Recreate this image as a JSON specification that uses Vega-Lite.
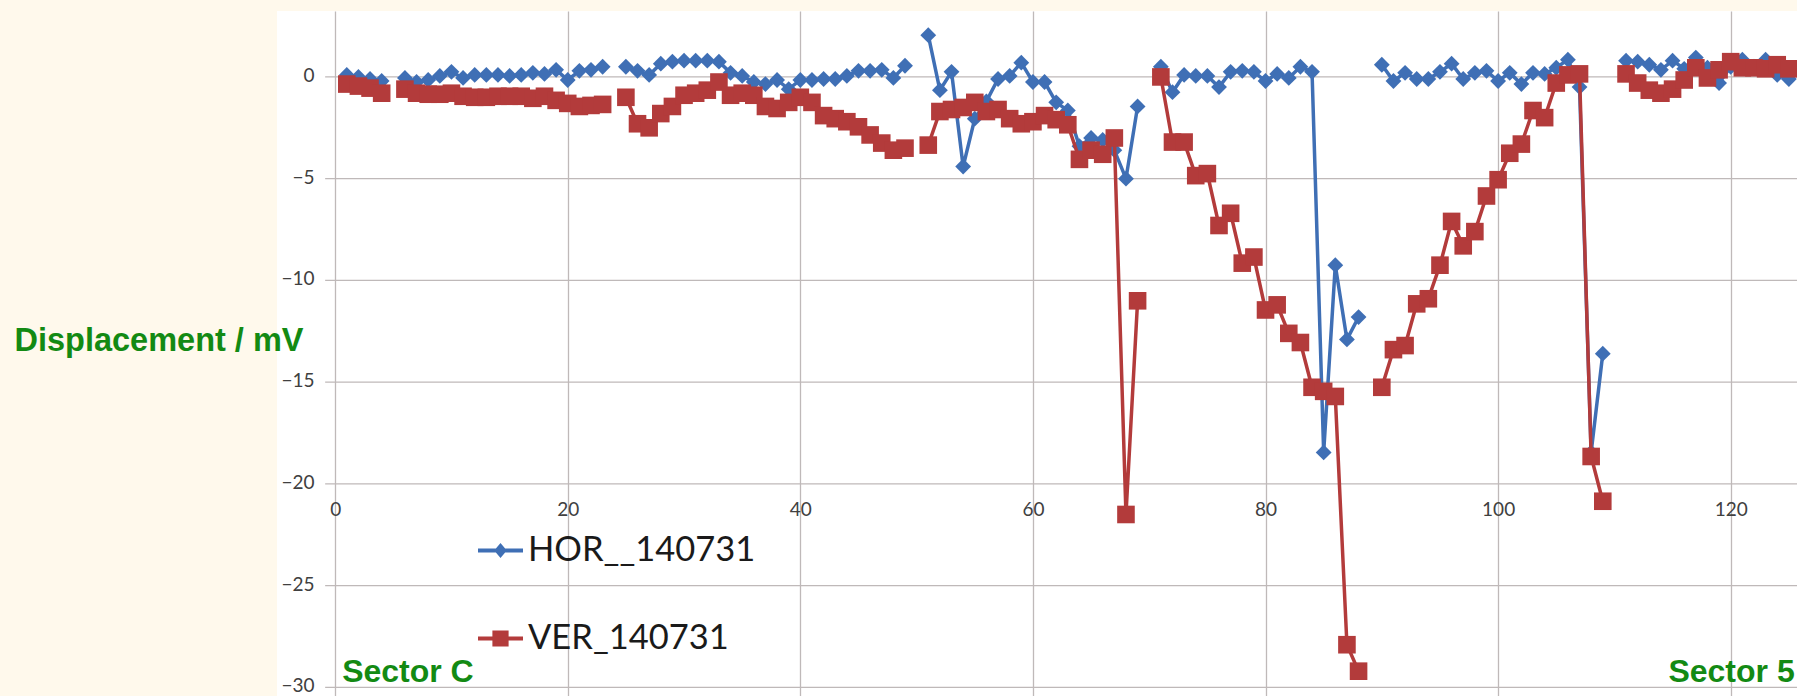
{
  "$schema": "https://vega.github.io/schema/vega-lite/v6.json",
  "width": 1520,
  "height": 685,
  "autosize": {"type": "none"},
  "padding": {"left": 277, "top": 11, "right": 0, "bottom": 0},
  "background": "#FFF9EC",
  "config": {"view": {"fill": "white", "stroke": null}, "font": "Lato"},
  "datasets": {
    "grid": [{"v": -30}, {"v": -25}, {"v": -20}, {"v": -15}, {"v": -10}, {"v": -5}, {"v": 0}],
    "hor": [
      {"x":1,"v":0.1,"s":"HOR__140731"},{"x":2,"v":0.0,"s":"HOR__140731"},{"x":3,"v":-0.1,"s":"HOR__140731"},{"x":4,"v":-0.2,"s":"HOR__140731"},{"x":5,"v":null,"s":"HOR__140731"},
      {"x":6,"v":-0.05,"s":"HOR__140731"},{"x":7,"v":-0.25,"s":"HOR__140731"},{"x":8,"v":-0.15,"s":"HOR__140731"},{"x":9,"v":0.05,"s":"HOR__140731"},{"x":10,"v":0.25,"s":"HOR__140731"},
      {"x":11,"v":-0.05,"s":"HOR__140731"},{"x":12,"v":0.1,"s":"HOR__140731"},{"x":13,"v":0.1,"s":"HOR__140731"},{"x":14,"v":0.1,"s":"HOR__140731"},{"x":15,"v":0.05,"s":"HOR__140731"},
      {"x":16,"v":0.1,"s":"HOR__140731"},{"x":17,"v":0.2,"s":"HOR__140731"},{"x":18,"v":0.15,"s":"HOR__140731"},{"x":19,"v":0.35,"s":"HOR__140731"},{"x":20,"v":-0.15,"s":"HOR__140731"},
      {"x":21,"v":0.3,"s":"HOR__140731"},{"x":22,"v":0.35,"s":"HOR__140731"},{"x":23,"v":0.5,"s":"HOR__140731"},{"x":24,"v":null,"s":"HOR__140731"},{"x":25,"v":0.5,"s":"HOR__140731"},
      {"x":26,"v":0.3,"s":"HOR__140731"},{"x":27,"v":0.1,"s":"HOR__140731"},{"x":28,"v":0.65,"s":"HOR__140731"},{"x":29,"v":0.75,"s":"HOR__140731"},{"x":30,"v":0.8,"s":"HOR__140731"},
      {"x":31,"v":0.8,"s":"HOR__140731"},{"x":32,"v":0.8,"s":"HOR__140731"},{"x":33,"v":0.75,"s":"HOR__140731"},{"x":34,"v":0.2,"s":"HOR__140731"},{"x":35,"v":0.05,"s":"HOR__140731"},
      {"x":36,"v":-0.25,"s":"HOR__140731"},{"x":37,"v":-0.35,"s":"HOR__140731"},{"x":38,"v":-0.15,"s":"HOR__140731"},{"x":39,"v":-0.6,"s":"HOR__140731"},{"x":40,"v":-0.15,"s":"HOR__140731"},
      {"x":41,"v":-0.15,"s":"HOR__140731"},{"x":42,"v":-0.1,"s":"HOR__140731"},{"x":43,"v":-0.1,"s":"HOR__140731"},{"x":44,"v":0.05,"s":"HOR__140731"},{"x":45,"v":0.3,"s":"HOR__140731"},
      {"x":46,"v":0.3,"s":"HOR__140731"},{"x":47,"v":0.35,"s":"HOR__140731"},{"x":48,"v":-0.05,"s":"HOR__140731"},{"x":49,"v":0.55,"s":"HOR__140731"},{"x":50,"v":null,"s":"HOR__140731"},
      {"x":51,"v":2.05,"s":"HOR__140731"},{"x":52,"v":-0.65,"s":"HOR__140731"},{"x":53,"v":0.25,"s":"HOR__140731"},{"x":54,"v":-4.4,"s":"HOR__140731"},{"x":55,"v":-2.05,"s":"HOR__140731"},
      {"x":56,"v":-1.2,"s":"HOR__140731"},{"x":57,"v":-0.1,"s":"HOR__140731"},{"x":58,"v":0.05,"s":"HOR__140731"},{"x":59,"v":0.7,"s":"HOR__140731"},{"x":60,"v":-0.25,"s":"HOR__140731"},
      {"x":61,"v":-0.25,"s":"HOR__140731"},{"x":62,"v":-1.25,"s":"HOR__140731"},{"x":63,"v":-1.65,"s":"HOR__140731"},{"x":64,"v":-3.4,"s":"HOR__140731"},{"x":65,"v":-3.0,"s":"HOR__140731"},
      {"x":66,"v":-3.1,"s":"HOR__140731"},{"x":67,"v":-3.6,"s":"HOR__140731"},{"x":68,"v":-5.0,"s":"HOR__140731"},{"x":69,"v":-1.45,"s":"HOR__140731"},{"x":70,"v":null,"s":"HOR__140731"},
      {"x":71,"v":0.5,"s":"HOR__140731"},{"x":72,"v":-0.75,"s":"HOR__140731"},{"x":73,"v":0.1,"s":"HOR__140731"},{"x":74,"v":0.05,"s":"HOR__140731"},{"x":75,"v":0.05,"s":"HOR__140731"},
      {"x":76,"v":-0.5,"s":"HOR__140731"},{"x":77,"v":0.25,"s":"HOR__140731"},{"x":78,"v":0.3,"s":"HOR__140731"},{"x":79,"v":0.25,"s":"HOR__140731"},{"x":80,"v":-0.2,"s":"HOR__140731"},
      {"x":81,"v":0.15,"s":"HOR__140731"},{"x":82,"v":-0.05,"s":"HOR__140731"},{"x":83,"v":0.5,"s":"HOR__140731"},{"x":84,"v":0.25,"s":"HOR__140731"},{"x":85,"v":-18.45,"s":"HOR__140731"},
      {"x":86,"v":-9.25,"s":"HOR__140731"},{"x":87,"v":-12.9,"s":"HOR__140731"},{"x":88,"v":-11.8,"s":"HOR__140731"},{"x":89,"v":null,"s":"HOR__140731"},{"x":90,"v":0.6,"s":"HOR__140731"},
      {"x":91,"v":-0.2,"s":"HOR__140731"},{"x":92,"v":0.2,"s":"HOR__140731"},{"x":93,"v":-0.1,"s":"HOR__140731"},{"x":94,"v":-0.1,"s":"HOR__140731"},{"x":95,"v":0.25,"s":"HOR__140731"},
      {"x":96,"v":0.65,"s":"HOR__140731"},{"x":97,"v":-0.1,"s":"HOR__140731"},{"x":98,"v":0.2,"s":"HOR__140731"},{"x":99,"v":0.3,"s":"HOR__140731"},{"x":100,"v":-0.2,"s":"HOR__140731"},
      {"x":101,"v":0.2,"s":"HOR__140731"},{"x":102,"v":-0.35,"s":"HOR__140731"},{"x":103,"v":0.2,"s":"HOR__140731"},{"x":104,"v":0.15,"s":"HOR__140731"},{"x":105,"v":0.45,"s":"HOR__140731"},
      {"x":106,"v":0.85,"s":"HOR__140731"},{"x":107,"v":-0.5,"s":"HOR__140731"},{"x":108,"v":-18.45,"s":"HOR__140731"},{"x":109,"v":-13.6,"s":"HOR__140731"},{"x":110,"v":null,"s":"HOR__140731"},
      {"x":111,"v":0.8,"s":"HOR__140731"},{"x":112,"v":0.75,"s":"HOR__140731"},{"x":113,"v":0.6,"s":"HOR__140731"},{"x":114,"v":0.35,"s":"HOR__140731"},{"x":115,"v":0.8,"s":"HOR__140731"},
      {"x":116,"v":0.4,"s":"HOR__140731"},{"x":117,"v":0.95,"s":"HOR__140731"},{"x":118,"v":0.45,"s":"HOR__140731"},{"x":119,"v":-0.3,"s":"HOR__140731"},{"x":120,"v":0.5,"s":"HOR__140731"},
      {"x":121,"v":0.85,"s":"HOR__140731"},{"x":122,"v":0.5,"s":"HOR__140731"},{"x":123,"v":0.85,"s":"HOR__140731"},{"x":124,"v":0.1,"s":"HOR__140731"},{"x":125,"v":-0.1,"s":"HOR__140731"}
    ],
    "ver": [
      {"x":1,"v":-0.35,"s":"VER_140731"},{"x":2,"v":-0.45,"s":"VER_140731"},{"x":3,"v":-0.55,"s":"VER_140731"},{"x":4,"v":-0.8,"s":"VER_140731"},{"x":5,"v":null,"s":"VER_140731"},
      {"x":6,"v":-0.6,"s":"VER_140731"},{"x":7,"v":-0.8,"s":"VER_140731"},{"x":8,"v":-0.85,"s":"VER_140731"},{"x":9,"v":-0.85,"s":"VER_140731"},{"x":10,"v":-0.8,"s":"VER_140731"},
      {"x":11,"v":-0.95,"s":"VER_140731"},{"x":12,"v":-1.0,"s":"VER_140731"},{"x":13,"v":-1.0,"s":"VER_140731"},{"x":14,"v":-0.95,"s":"VER_140731"},{"x":15,"v":-0.95,"s":"VER_140731"},
      {"x":16,"v":-0.95,"s":"VER_140731"},{"x":17,"v":-1.05,"s":"VER_140731"},{"x":18,"v":-0.95,"s":"VER_140731"},{"x":19,"v":-1.15,"s":"VER_140731"},{"x":20,"v":-1.3,"s":"VER_140731"},
      {"x":21,"v":-1.45,"s":"VER_140731"},{"x":22,"v":-1.4,"s":"VER_140731"},{"x":23,"v":-1.35,"s":"VER_140731"},{"x":24,"v":null,"s":"VER_140731"},{"x":25,"v":-1.0,"s":"VER_140731"},
      {"x":26,"v":-2.3,"s":"VER_140731"},{"x":27,"v":-2.5,"s":"VER_140731"},{"x":28,"v":-1.8,"s":"VER_140731"},{"x":29,"v":-1.45,"s":"VER_140731"},{"x":30,"v":-0.9,"s":"VER_140731"},
      {"x":31,"v":-0.8,"s":"VER_140731"},{"x":32,"v":-0.65,"s":"VER_140731"},{"x":33,"v":-0.25,"s":"VER_140731"},{"x":34,"v":-0.9,"s":"VER_140731"},{"x":35,"v":-0.8,"s":"VER_140731"},
      {"x":36,"v":-0.9,"s":"VER_140731"},{"x":37,"v":-1.45,"s":"VER_140731"},{"x":38,"v":-1.55,"s":"VER_140731"},{"x":39,"v":-1.25,"s":"VER_140731"},{"x":40,"v":-1.0,"s":"VER_140731"},
      {"x":41,"v":-1.25,"s":"VER_140731"},{"x":42,"v":-1.9,"s":"VER_140731"},{"x":43,"v":-2.05,"s":"VER_140731"},{"x":44,"v":-2.2,"s":"VER_140731"},{"x":45,"v":-2.45,"s":"VER_140731"},
      {"x":46,"v":-2.85,"s":"VER_140731"},{"x":47,"v":-3.25,"s":"VER_140731"},{"x":48,"v":-3.6,"s":"VER_140731"},{"x":49,"v":-3.5,"s":"VER_140731"},{"x":50,"v":null,"s":"VER_140731"},
      {"x":51,"v":-3.35,"s":"VER_140731"},{"x":52,"v":-1.7,"s":"VER_140731"},{"x":53,"v":-1.6,"s":"VER_140731"},{"x":54,"v":-1.5,"s":"VER_140731"},{"x":55,"v":-1.25,"s":"VER_140731"},
      {"x":56,"v":-1.7,"s":"VER_140731"},{"x":57,"v":-1.6,"s":"VER_140731"},{"x":58,"v":-2.05,"s":"VER_140731"},{"x":59,"v":-2.3,"s":"VER_140731"},{"x":60,"v":-2.2,"s":"VER_140731"},
      {"x":61,"v":-1.9,"s":"VER_140731"},{"x":62,"v":-2.1,"s":"VER_140731"},{"x":63,"v":-2.35,"s":"VER_140731"},{"x":64,"v":-4.05,"s":"VER_140731"},{"x":65,"v":-3.6,"s":"VER_140731"},
      {"x":66,"v":-3.8,"s":"VER_140731"},{"x":67,"v":-3.0,"s":"VER_140731"},{"x":68,"v":-21.5,"s":"VER_140731"},{"x":69,"v":-11.0,"s":"VER_140731"},{"x":70,"v":null,"s":"VER_140731"},
      {"x":71,"v":0.0,"s":"VER_140731"},{"x":72,"v":-3.2,"s":"VER_140731"},{"x":73,"v":-3.2,"s":"VER_140731"},{"x":74,"v":-4.85,"s":"VER_140731"},{"x":75,"v":-4.75,"s":"VER_140731"},
      {"x":76,"v":-7.3,"s":"VER_140731"},{"x":77,"v":-6.7,"s":"VER_140731"},{"x":78,"v":-9.15,"s":"VER_140731"},{"x":79,"v":-8.85,"s":"VER_140731"},{"x":80,"v":-11.45,"s":"VER_140731"},
      {"x":81,"v":-11.2,"s":"VER_140731"},{"x":82,"v":-12.6,"s":"VER_140731"},{"x":83,"v":-13.05,"s":"VER_140731"},{"x":84,"v":-15.25,"s":"VER_140731"},{"x":85,"v":-15.45,"s":"VER_140731"},
      {"x":86,"v":-15.7,"s":"VER_140731"},{"x":87,"v":-27.9,"s":"VER_140731"},{"x":88,"v":-29.2,"s":"VER_140731"},{"x":89,"v":null,"s":"VER_140731"},{"x":90,"v":-15.25,"s":"VER_140731"},
      {"x":91,"v":-13.4,"s":"VER_140731"},{"x":92,"v":-13.2,"s":"VER_140731"},{"x":93,"v":-11.15,"s":"VER_140731"},{"x":94,"v":-10.9,"s":"VER_140731"},{"x":95,"v":-9.25,"s":"VER_140731"},
      {"x":96,"v":-7.1,"s":"VER_140731"},{"x":97,"v":-8.3,"s":"VER_140731"},{"x":98,"v":-7.6,"s":"VER_140731"},{"x":99,"v":-5.85,"s":"VER_140731"},{"x":100,"v":-5.05,"s":"VER_140731"},
      {"x":101,"v":-3.75,"s":"VER_140731"},{"x":102,"v":-3.3,"s":"VER_140731"},{"x":103,"v":-1.65,"s":"VER_140731"},{"x":104,"v":-2.0,"s":"VER_140731"},{"x":105,"v":-0.3,"s":"VER_140731"},
      {"x":106,"v":0.1,"s":"VER_140731"},{"x":107,"v":0.15,"s":"VER_140731"},{"x":108,"v":-18.65,"s":"VER_140731"},{"x":109,"v":-20.85,"s":"VER_140731"},{"x":110,"v":null,"s":"VER_140731"},
      {"x":111,"v":0.15,"s":"VER_140731"},{"x":112,"v":-0.3,"s":"VER_140731"},{"x":113,"v":-0.65,"s":"VER_140731"},{"x":114,"v":-0.8,"s":"VER_140731"},{"x":115,"v":-0.6,"s":"VER_140731"},
      {"x":116,"v":-0.15,"s":"VER_140731"},{"x":117,"v":0.45,"s":"VER_140731"},{"x":118,"v":-0.05,"s":"VER_140731"},{"x":119,"v":0.35,"s":"VER_140731"},{"x":120,"v":0.75,"s":"VER_140731"},
      {"x":121,"v":0.45,"s":"VER_140731"},{"x":122,"v":0.45,"s":"VER_140731"},{"x":123,"v":0.4,"s":"VER_140731"},{"x":124,"v":0.6,"s":"VER_140731"},{"x":125,"v":0.4,"s":"VER_140731"}
    ],
    "notes": [{"label": "Sector C", "x": 0.6, "v": -29.75}],
    "notes2": [{"label": "Sector 5", "x": 125.5, "v": -29.75}]
  },
  "layer": [
    {
      "data": {"name": "grid"},
      "mark": {"type": "rule", "color": "#BFB9B9", "strokeWidth": 1.3},
      "encoding": {
        "y": {"field": "v", "type": "quantitative", "title": "Displacement / mV", "scale": {"domain": [-30.42, 3.24], "nice": false, "zero": false},
          "axis": {"orient": "left", "offset": -58, "values": [-30, -25, -20, -15, -10, -5, 0], "domain": false, "ticks": false, "tickSize": 0, "grid": false, "labelPadding": 21, "labelOffset": -1.5, "labelAlign": "right", "labelFont": "Lato", "labelFontSize": 19, "labelColor": "#404040", "labelFlush": false, "labelOverlap": false,
            "titleAngle": 0, "titleX": -321, "titleY": 339, "titleAlign": "left", "titleBaseline": "alphabetic", "titleFont": "Liberation Sans", "titleFontSize": 32.5, "titleFontWeight": "bold", "titleColor": "#138A13"}},
        "x": {"datum": -0.86, "type": "quantitative", "title": null, "scale": {"domain": [-5, 125.7], "nice": false, "zero": false},
          "axis": {"orient": "bottom", "offset": -206, "values": [0, 20, 40, 60, 80, 100, 120], "domain": false, "ticks": false, "tickSize": 0, "grid": true, "gridColor": "#BFB9B9", "gridWidth": 1.3, "labelPadding": 10, "labelFont": "Lato", "labelFontSize": 19, "labelColor": "#404040", "labelFlush": false, "labelOverlap": false}},
        "x2": {"datum": 125.7}
      }
    },
    {
      "data": {"name": "hor"},
      "mark": {"type": "line", "strokeWidth": 3.5, "clip": true, "invalid": "break-paths-filter-domains", "point": {"shape": "diamond", "size": 250, "filled": true, "opacity": 1}},
      "encoding": {
        "x": {"field": "x", "type": "quantitative", "title": null, "scale": {"domain": [-5, 125.7], "nice": false, "zero": false},
          "axis": {"orient": "bottom", "offset": -206, "values": [0, 20, 40, 60, 80, 100, 120], "domain": false, "ticks": false, "tickSize": 0, "grid": true, "gridColor": "#BFB9B9", "gridWidth": 1.3, "labelPadding": 10, "labelFont": "Lato", "labelFontSize": 19, "labelColor": "#404040", "labelFlush": false, "labelOverlap": false}},
        "y": {"field": "v", "type": "quantitative", "title": "Displacement / mV", "scale": {"domain": [-30.42, 3.24], "nice": false, "zero": false},
          "axis": {"orient": "left", "offset": -58, "values": [-30, -25, -20, -15, -10, -5, 0], "domain": false, "ticks": false, "tickSize": 0, "grid": false, "labelPadding": 21, "labelOffset": -1.5, "labelAlign": "right", "labelFont": "Lato", "labelFontSize": 19, "labelColor": "#404040", "labelFlush": false, "labelOverlap": false,
            "titleAngle": 0, "titleX": -321, "titleY": 339, "titleAlign": "left", "titleBaseline": "alphabetic", "titleFont": "Liberation Sans", "titleFontSize": 32.5, "titleFontWeight": "bold", "titleColor": "#138A13"}},
        "color": {"field": "s", "type": "nominal", "scale": {"domain": ["HOR__140731", "VER_140731"], "range": ["#3F6FB5", "#B33B3B"]},
          "legend": {"orient": "none", "legendX": 201, "legendY": 517, "title": null, "direction": "vertical", "padding": 0, "symbolSize": 2025, "symbolStrokeWidth": 0, "labelFont": "Lato", "labelFontSize": 34.5, "labelColor": "#1A1A1A", "labelOffset": 5, "labelLimit": 0, "rowPadding": 49,
            "encode": {"symbols": {"update": {
              "shape": {"signal": "datum.value === 'HOR__140731' ? 'M-1,-0.085H1V0.085H-1Z M0,-0.33L0.28,0L0,0.33L-0.28,0Z' : 'M-1,-0.085H1V0.085H-1Z M-0.36,-0.36H0.36V0.36H-0.36Z'"},
              "fill": {"signal": "datum.value === 'HOR__140731' ? '#3F6FB5' : '#B33B3B'"},
              "stroke": {"value": "transparent"},
              "strokeWidth": {"value": 0},
              "opacity": {"value": 1},
              "size": {"value": 2025}
            }}}}}
      }
    },
    {
      "data": {"name": "ver"},
      "mark": {"type": "line", "strokeWidth": 3.5, "clip": true, "invalid": "break-paths-filter-domains", "point": {"shape": "square", "size": 310, "filled": true, "opacity": 1}},
      "encoding": {
        "x": {"field": "x", "type": "quantitative", "title": null, "scale": {"domain": [-5, 125.7], "nice": false, "zero": false},
          "axis": {"orient": "bottom", "offset": -206, "values": [0, 20, 40, 60, 80, 100, 120], "domain": false, "ticks": false, "tickSize": 0, "grid": true, "gridColor": "#BFB9B9", "gridWidth": 1.3, "labelPadding": 10, "labelFont": "Lato", "labelFontSize": 19, "labelColor": "#404040", "labelFlush": false, "labelOverlap": false}},
        "y": {"field": "v", "type": "quantitative", "title": "Displacement / mV", "scale": {"domain": [-30.42, 3.24], "nice": false, "zero": false},
          "axis": {"orient": "left", "offset": -58, "values": [-30, -25, -20, -15, -10, -5, 0], "domain": false, "ticks": false, "tickSize": 0, "grid": false, "labelPadding": 21, "labelOffset": -1.5, "labelAlign": "right", "labelFont": "Lato", "labelFontSize": 19, "labelColor": "#404040", "labelFlush": false, "labelOverlap": false,
            "titleAngle": 0, "titleX": -321, "titleY": 339, "titleAlign": "left", "titleBaseline": "alphabetic", "titleFont": "Liberation Sans", "titleFontSize": 32.5, "titleFontWeight": "bold", "titleColor": "#138A13"}},
        "color": {"field": "s", "type": "nominal", "scale": {"domain": ["HOR__140731", "VER_140731"], "range": ["#3F6FB5", "#B33B3B"]},
          "legend": {"orient": "none", "legendX": 201, "legendY": 517, "title": null, "direction": "vertical", "padding": 0, "symbolSize": 2025, "symbolStrokeWidth": 0, "labelFont": "Lato", "labelFontSize": 34.5, "labelColor": "#1A1A1A", "labelOffset": 5, "labelLimit": 0, "rowPadding": 49,
            "encode": {"symbols": {"update": {
              "shape": {"signal": "datum.value === 'HOR__140731' ? 'M-1,-0.085H1V0.085H-1Z M0,-0.33L0.28,0L0,0.33L-0.28,0Z' : 'M-1,-0.085H1V0.085H-1Z M-0.36,-0.36H0.36V0.36H-0.36Z'"},
              "fill": {"signal": "datum.value === 'HOR__140731' ? '#3F6FB5' : '#B33B3B'"},
              "stroke": {"value": "transparent"},
              "strokeWidth": {"value": 0},
              "opacity": {"value": 1},
              "size": {"value": 2025}
            }}}}}
      }
    },
    {
      "data": {"name": "notes"},
      "mark": {"type": "text", "align": "left", "baseline": "alphabetic", "font": "Liberation Sans", "fontSize": 32, "fontWeight": "bold", "color": "#138A13"},
      "encoding": {
        "x": {"field": "x", "type": "quantitative", "title": null, "scale": {"domain": [-5, 125.7], "nice": false, "zero": false},
          "axis": {"orient": "bottom", "offset": -206, "values": [0, 20, 40, 60, 80, 100, 120], "domain": false, "ticks": false, "tickSize": 0, "grid": true, "gridColor": "#BFB9B9", "gridWidth": 1.3, "labelPadding": 10, "labelFont": "Lato", "labelFontSize": 19, "labelColor": "#404040", "labelFlush": false, "labelOverlap": false}},
        "y": {"field": "v", "type": "quantitative", "title": "Displacement / mV", "scale": {"domain": [-30.42, 3.24], "nice": false, "zero": false},
          "axis": {"orient": "left", "offset": -58, "values": [-30, -25, -20, -15, -10, -5, 0], "domain": false, "ticks": false, "tickSize": 0, "grid": false, "labelPadding": 21, "labelOffset": -1.5, "labelAlign": "right", "labelFont": "Lato", "labelFontSize": 19, "labelColor": "#404040", "labelFlush": false, "labelOverlap": false,
            "titleAngle": 0, "titleX": -321, "titleY": 339, "titleAlign": "left", "titleBaseline": "alphabetic", "titleFont": "Liberation Sans", "titleFontSize": 32.5, "titleFontWeight": "bold", "titleColor": "#138A13"}},
        "text": {"field": "label"}
      }
    },
    {
      "data": {"name": "notes2"},
      "mark": {"type": "text", "align": "right", "baseline": "alphabetic", "font": "Liberation Sans", "fontSize": 32, "fontWeight": "bold", "color": "#138A13"},
      "encoding": {
        "x": {"field": "x", "type": "quantitative", "title": null, "scale": {"domain": [-5, 125.7], "nice": false, "zero": false},
          "axis": {"orient": "bottom", "offset": -206, "values": [0, 20, 40, 60, 80, 100, 120], "domain": false, "ticks": false, "tickSize": 0, "grid": true, "gridColor": "#BFB9B9", "gridWidth": 1.3, "labelPadding": 10, "labelFont": "Lato", "labelFontSize": 19, "labelColor": "#404040", "labelFlush": false, "labelOverlap": false}},
        "y": {"field": "v", "type": "quantitative", "title": "Displacement / mV", "scale": {"domain": [-30.42, 3.24], "nice": false, "zero": false},
          "axis": {"orient": "left", "offset": -58, "values": [-30, -25, -20, -15, -10, -5, 0], "domain": false, "ticks": false, "tickSize": 0, "grid": false, "labelPadding": 21, "labelOffset": -1.5, "labelAlign": "right", "labelFont": "Lato", "labelFontSize": 19, "labelColor": "#404040", "labelFlush": false, "labelOverlap": false,
            "titleAngle": 0, "titleX": -321, "titleY": 339, "titleAlign": "left", "titleBaseline": "alphabetic", "titleFont": "Liberation Sans", "titleFontSize": 32.5, "titleFontWeight": "bold", "titleColor": "#138A13"}},
        "text": {"field": "label"}
      }
    }
  ]
}
